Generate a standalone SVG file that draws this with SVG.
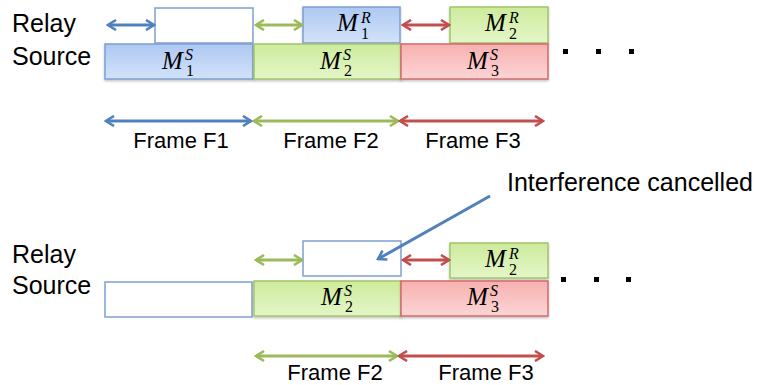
<svg xmlns="http://www.w3.org/2000/svg" width="766" height="385" viewBox="0 0 766 385">
<style>
.lbl{font-family:"Liberation Sans",Arial,sans-serif;font-size:25px;fill:#000}
.fr{font-family:"Liberation Sans",Arial,sans-serif;font-size:22px;fill:#000;text-anchor:middle}
.m{font-family:"Liberation Serif","Times New Roman",serif;font-style:italic;font-size:25px;fill:#000}
.sup{font-family:"Liberation Serif","Times New Roman",serif;font-style:italic;font-size:16px;fill:#000}
.sub{font-family:"Liberation Serif","Times New Roman",serif;font-size:16px;fill:#000}
.bb{fill:url(#gb);stroke:#7e9fd3;stroke-width:1.5;filter:url(#sh)}
.gb{fill:url(#gg);stroke:#a3c46a;stroke-width:1.5;filter:url(#sh)}
.rb{fill:url(#gr);stroke:#d46a6a;stroke-width:1.5;filter:url(#sh)}
.eb{fill:#fff;stroke:#7e9fd3;stroke-width:1.5}
.ab{stroke:#4f81bd;stroke-width:3;fill:none;marker-start:url(#mb);marker-end:url(#mb)}
.ag{stroke:#9bbb59;stroke-width:3;fill:none;marker-start:url(#mg);marker-end:url(#mg)}
.ar{stroke:#c0504d;stroke-width:3;fill:none;marker-start:url(#mr);marker-end:url(#mr)}
.dot{fill:#000}
</style>
<defs>
<filter id="sh" x="-5%" y="-10%" width="110%" height="130%"><feDropShadow dx="0" dy="1.5" stdDeviation="1.2" flood-color="#000" flood-opacity="0.25"/></filter>
<linearGradient id="gb" x1="0" y1="0" x2="0" y2="1"><stop offset="0" stop-color="#aec8f2"/><stop offset="1" stop-color="#d3e2f9"/></linearGradient>
<linearGradient id="gg" x1="0" y1="0" x2="0" y2="1"><stop offset="0" stop-color="#cdeb9c"/><stop offset="1" stop-color="#e4f6c8"/></linearGradient>
<linearGradient id="gr" x1="0" y1="0" x2="0" y2="1"><stop offset="0" stop-color="#f7b0b0"/><stop offset="1" stop-color="#fcd5d5"/></linearGradient>
<marker id="mb" viewBox="0 0 12 12" refX="10" refY="6" markerWidth="12" markerHeight="12" markerUnits="userSpaceOnUse" orient="auto-start-reverse"><path d="M2,1 L10,6 L2,11" fill="none" stroke="#4f81bd" stroke-width="2.6"/></marker>
<marker id="mg" viewBox="0 0 12 12" refX="10" refY="6" markerWidth="12" markerHeight="12" markerUnits="userSpaceOnUse" orient="auto-start-reverse"><path d="M2,1 L10,6 L2,11" fill="none" stroke="#9bbb59" stroke-width="2.6"/></marker>
<marker id="mr" viewBox="0 0 12 12" refX="10" refY="6" markerWidth="12" markerHeight="12" markerUnits="userSpaceOnUse" orient="auto-start-reverse"><path d="M2,1 L10,6 L2,11" fill="none" stroke="#c0504d" stroke-width="2.6"/></marker>
<marker id="mh" viewBox="0 0 12 12" refX="10" refY="6" markerWidth="12" markerHeight="12" markerUnits="userSpaceOnUse" orient="auto"><path d="M2,1 L10,6 L2,11" fill="none" stroke="#4f81bd" stroke-width="2.6"/></marker>
</defs>

<!-- top panel -->
<g id="labels-top">
<text class="lbl" x="12" y="32">Relay</text>
<text class="lbl" x="12" y="65">Source</text>
</g>
<g id="relay-empty-1"><rect class="eb" x="155" y="8" width="98" height="35"/></g>
<g id="relay-m1r"><rect class="bb" x="303" y="7" width="97" height="36"/>
<text class="m" x="337" y="31">M</text><text class="sup" x="361" y="23">R</text><text class="sub" x="361" y="39">1</text></g>
<g id="relay-m2r"><rect class="gb" x="450" y="7" width="98" height="36"/>
<text class="m" x="485" y="31">M</text><text class="sup" x="509" y="23">R</text><text class="sub" x="509" y="39">2</text></g>
<g id="src-m1s"><rect class="bb" x="105" y="44" width="148" height="35"/>
<text class="m" x="162" y="69">M</text><text class="sup" x="185" y="60">S</text><text class="sub" x="186" y="76">1</text></g>
<g id="src-m2s"><rect class="gb" x="254" y="44" width="147" height="35"/>
<text class="m" x="320" y="69">M</text><text class="sup" x="343" y="60">S</text><text class="sub" x="344" y="76">2</text></g>
<g id="src-m3s"><rect class="rb" x="401" y="44" width="147" height="35"/>
<text class="m" x="467" y="69">M</text><text class="sup" x="490" y="60">S</text><text class="sub" x="491" y="76">3</text></g>
<g id="dots-top"><rect class="dot" x="563" y="49" width="5" height="5"/><rect class="dot" x="596" y="49" width="5" height="5"/><rect class="dot" x="629" y="49" width="5" height="5"/></g>
<g id="frame-labels-top">
<text class="fr" x="181" y="148">Frame F1</text>
<text class="fr" x="331" y="148">Frame F2</text>
<text class="fr" x="473" y="148">Frame F3</text>
</g>

<!-- bottom panel -->
<g id="labels-bottom">
<text class="lbl" x="12" y="263">Relay</text>
<text class="lbl" x="12" y="294">Source</text>
</g>
<g id="note"><text class="lbl" x="507" y="191">Interference cancelled</text></g>
<g id="relay-empty-2"><rect class="eb" x="303" y="241" width="98" height="35"/></g>
<g id="relay-m2r-b"><rect class="gb" x="450" y="243" width="98" height="35"/>
<text class="m" x="485" y="267">M</text><text class="sup" x="509" y="259">R</text><text class="sub" x="509" y="275">2</text></g>
<g id="src-empty"><rect class="eb" x="105" y="282" width="147" height="35"/></g>
<g id="src-m2s-b"><rect class="gb" x="254" y="281" width="147" height="35"/>
<text class="m" x="321" y="305">M</text><text class="sup" x="344" y="296">S</text><text class="sub" x="345" y="312">2</text></g>
<g id="src-m3s-b"><rect class="rb" x="401" y="281" width="147" height="35"/>
<text class="m" x="467" y="305">M</text><text class="sup" x="490" y="296">S</text><text class="sub" x="491" y="312">3</text></g>
<g id="dots-bottom"><rect class="dot" x="561" y="277" width="5" height="5"/><rect class="dot" x="594" y="277" width="5" height="5"/><rect class="dot" x="626" y="277" width="5" height="5"/></g>
<g id="frame-labels-bottom">
<text class="fr" x="335" y="380">Frame F2</text>
<text class="fr" x="486" y="380">Frame F3</text>
</g>

<g id="connectors">
<line class="ab" x1="108" y1="25" x2="154" y2="25"/>
<line class="ag" x1="256" y1="25" x2="302" y2="25"/>
<line class="ar" x1="403" y1="25" x2="449" y2="25"/>
<line class="ab" x1="106" y1="121" x2="251" y2="121"/>
<line class="ag" x1="254" y1="121" x2="398" y2="121"/>
<line class="ar" x1="400" y1="121" x2="543" y2="121"/>
<line class="ag" x1="256" y1="260" x2="302" y2="260"/>
<line class="ar" x1="403" y1="260" x2="449" y2="260"/>
<line class="ag" x1="256" y1="356" x2="397" y2="356"/>
<line class="ar" x1="399" y1="356" x2="543" y2="356"/>
<line x1="490" y1="196" x2="378" y2="259" stroke="#4f81bd" stroke-width="3" marker-end="url(#mh)"/>
</g>
</svg>
